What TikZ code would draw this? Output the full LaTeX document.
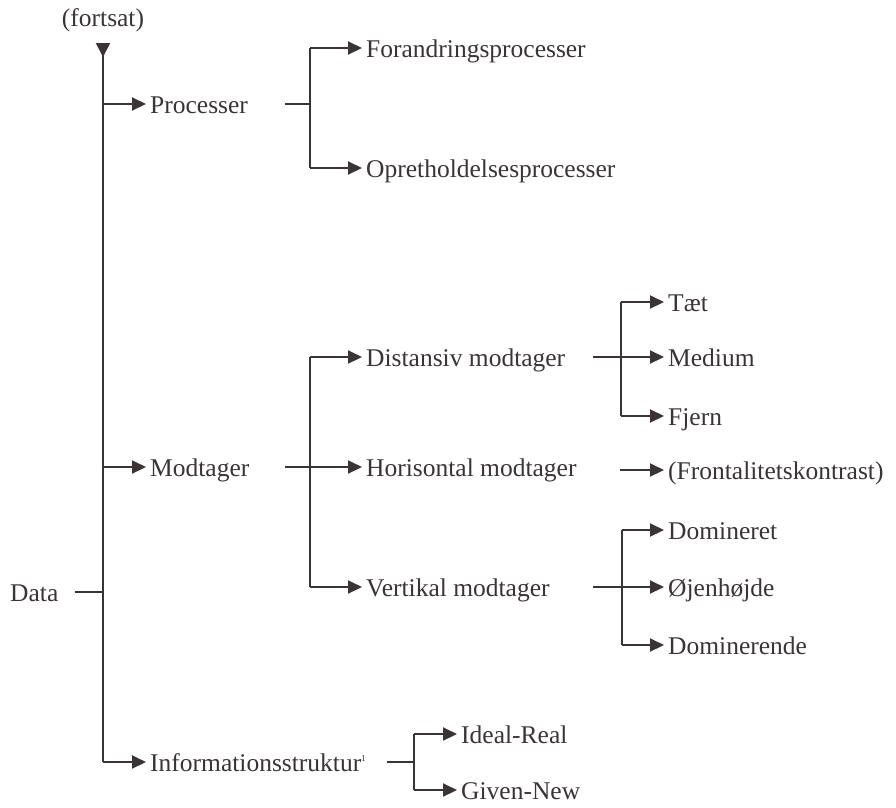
\documentclass[tikz,border=0pt]{standalone}
\usepackage{fontspec}
\setmainfont{Liberation Serif}
\usepackage{tikz}
\usetikzlibrary{arrows.meta}
\definecolor{ink}{RGB}{58,52,52}
\tikzset{
  lbl/.style={anchor=west, inner xsep=0pt, inner ysep=0pt,
    text height=18pt, text depth=0pt, text=ink},
  ln/.style={draw=ink, line width=2pt},
  arr/.style={ln, -{Triangle[length=14pt,width=13pt]}, shorten >=4pt},
}

\begin{document}
\begin{tikzpicture}[x=1pt, y=-1pt, font=\fontsize{25.5}{30}\selectfont]
	\useasboundingbox (0,0) rectangle (896,807);
	% spine
	\node (fortsat) [text=ink] at (103,20) {(fortsat)};
	\coordinate (top) at (103,43);
	\coordinate (s1) at (103,104);
	\coordinate (s2) at (103,467);
	\coordinate (s3) at (103,592);
	\coordinate (s4) at (103,762);
	\node (data) [lbl] at (10,592) {Data};
	\node (proc) [lbl] at (150,104) {Processer};
	\node (modt) [lbl] at (150,467) {Modtager};
	\node (info) [lbl] at (150,762) {Informationsstruktur\textsuperscript{\fontsize{9}{9}\selectfont 1}};
	\draw [ln, {Triangle[reversed,length=14pt,width=14pt]}-] (top) to (s4);
	\draw [ln] ([xshift=16pt]data.east) to (s3);
	\draw [arr] (s1) to (proc);
	\draw [arr] (s2) to (modt);
	\draw [arr] (s4) to (info);
	% processer
	\node (forand) [lbl] at (366,48) {Forandringsprocesser};
	\node (opret) [lbl] at (366,168) {Opretholdelsesprocesser};
	\coordinate (p0) at (285,104);
	\coordinate (p1) at (310,104);
	\coordinate (pa) at (310,48);
	\coordinate (pb) at (310,168);
	\draw [ln] (p0) to (p1);
	\draw [arr] (pa) to (forand);
	\draw [arr] (pb) to (opret);
	\draw [ln] (pa) to (pb);
	% modtager
	\node (dist) [lbl] at (366,357) {Distansiv modtager};
	\node (hori) [lbl] at (366,467) {Horisontal modtager};
	\node (vert) [lbl] at (366,587) {Vertikal modtager};
	\coordinate (m0) at (285,467);
	\coordinate (ma) at (310,357);
	\coordinate (mb) at (310,587);
	\draw [ln] (ma) to (mb);
	\draw [arr] (m0) to (hori);
	\draw [arr] (ma) to (dist);
	\draw [arr] (mb) to (vert);
	% distansiv
	\node (taet) [lbl] at (668,302) {Tæt};
	\node (medium) [lbl] at (668,357) {Medium};
	\node (fjern) [lbl] at (668,416) {Fjern};
	\coordinate (d0) at (593,357);
	\coordinate (da) at (621,302);
	\coordinate (db) at (621,416);
	\draw [ln] (da) to (db);
	\draw [arr] (d0) to (medium);
	\draw [arr] (da) to (taet);
	\draw [arr] (db) to (fjern);
	% horisontal
	\node (front) [lbl] at (668,470) {(Frontalitetskontrast)};
	\coordinate (h0) at (620,470);
	\draw [arr] (h0) to (front);
	% vertikal
	\node (domret) [lbl] at (668,530) {Domineret};
	\node (ojen) [lbl] at (668,587) {Øjenhøjde};
	\node (domrende) [lbl] at (668,645) {Dominerende};
	\coordinate (v0) at (593,587);
	\coordinate (va) at (622,530);
	\coordinate (vb) at (622,645);
	\draw [ln] (va) to (vb);
	\draw [arr] (v0) to (ojen);
	\draw [arr] (va) to (domret);
	\draw [arr] (vb) to (domrende);
	% informationsstruktur
	\node (ideal) [lbl] at (461,734) {Ideal-Real};
	\node (given) [lbl] at (461,790) {Given-New};
	\coordinate (i0) at (387,762);
	\coordinate (i1) at (414,762);
	\coordinate (ia) at (414,734);
	\coordinate (ib) at (414,790);
	\draw [ln] (i0) to (i1);
	\draw [ln] (ia) to (ib);
	\draw [arr] (ia) to (ideal);
	\draw [arr] (ib) to (given);
\end{tikzpicture}
\end{document}
